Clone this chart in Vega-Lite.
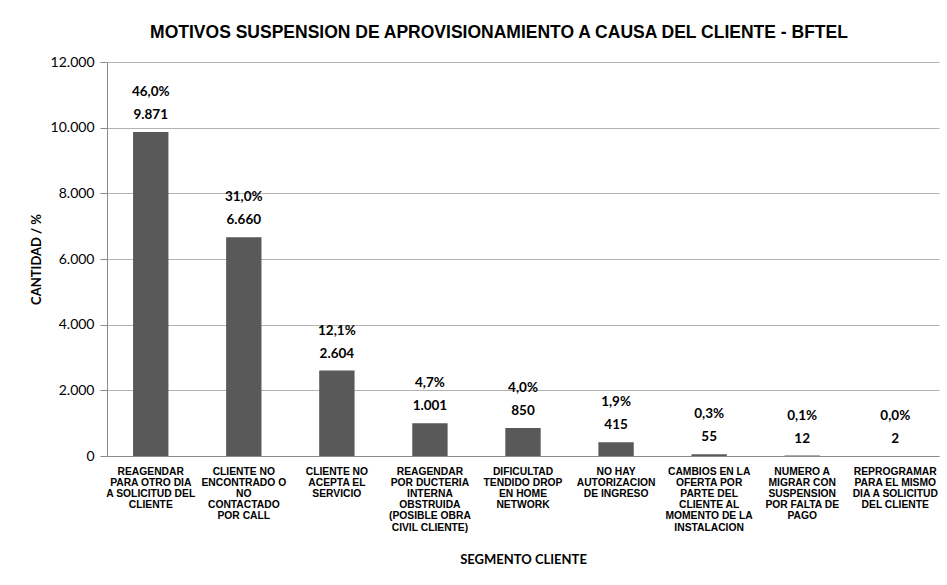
{
  "$schema": "https://vega.github.io/schema/vega-lite/v6.json",
  "width": 832,
  "height": 394,
  "autosize": {"type": "none"},
  "padding": {"left": 107, "top": 62, "right": 8, "bottom": 129},
  "background": "white",
  "title": {
    "text": "MOTIVOS SUSPENSION DE APROVISIONAMIENTO A CAUSA DEL  CLIENTE - BFTEL",
    "font": "Liberation Sans",
    "fontSize": 17.5,
    "fontWeight": "bold",
    "color": "#000000",
    "anchor": "middle",
    "dx": -24,
    "offset": 14
  },
  "data": {
    "values": [
      {"motivo": "REAGENDAR|PARA OTRO DIA|A SOLICITUD DEL|CLIENTE", "cantidad": 9871, "pct": "46,0%", "lbl": "9.871", "orden": 1},
      {"motivo": "CLIENTE NO|ENCONTRADO O|NO|CONTACTADO|POR CALL", "cantidad": 6660, "pct": "31,0%", "lbl": "6.660", "orden": 2},
      {"motivo": "CLIENTE NO|ACEPTA EL|SERVICIO", "cantidad": 2604, "pct": "12,1%", "lbl": "2.604", "orden": 3},
      {"motivo": "REAGENDAR|POR DUCTERIA|INTERNA|OBSTRUIDA|(POSIBLE OBRA|CIVIL CLIENTE)", "cantidad": 1001, "pct": "4,7%", "lbl": "1.001", "orden": 4},
      {"motivo": "DIFICULTAD|TENDIDO DROP|EN HOME|NETWORK", "cantidad": 850, "pct": "4,0%", "lbl": "850", "orden": 5},
      {"motivo": "NO HAY|AUTORIZACION|DE INGRESO", "cantidad": 415, "pct": "1,9%", "lbl": "415", "orden": 6},
      {"motivo": "CAMBIOS EN LA|OFERTA POR|PARTE DEL|CLIENTE AL|MOMENTO DE LA|INSTALACION", "cantidad": 55, "pct": "0,3%", "lbl": "55", "orden": 7},
      {"motivo": "NUMERO A|MIGRAR CON|SUSPENSION|POR FALTA DE|PAGO", "cantidad": 12, "pct": "0,1%", "lbl": "12", "orden": 8},
      {"motivo": "REPROGRAMAR|PARA EL MISMO|DIA A SOLICITUD|DEL CLIENTE", "cantidad": 2, "pct": "0,0%", "lbl": "2", "orden": 9}
    ]
  },
  "encoding": {
    "x": {
      "field": "motivo",
      "type": "nominal",
      "sort": {"field": "orden"},
      "scale": {"paddingInner": 0.62, "paddingOuter": 0.28},
      "axis": {
        "title": "SEGMENTO CLIENTE",
        "titleFont": "Lato",
        "titleFontSize": 13,
        "titleFontWeight": "bold",
        "titleColor": "#000000",
        "titlePadding": 21,
        "labelAngle": 0,
        "labelExpr": "split(datum.label, '|')",
        "labelFont": "Liberation Sans",
        "labelFontSize": 10.3,
        "labelFontWeight": "bold",
        "labelColor": "#000000",
        "labelLineHeight": 11.2,
        "labelPadding": 10,
        "labelLimit": 200,
        "ticks": false,
        "domainColor": "#8c8c8c",
        "grid": false
      }
    },
    "y": {
      "field": "cantidad",
      "type": "quantitative",
      "scale": {"domain": [0, 12000]},
      "axis": {
        "title": "CANTIDAD / %",
        "titleFont": "Lato",
        "titleFontSize": 13,
        "titleFontWeight": "bold",
        "titleColor": "#000000",
        "titlePadding": 7,
        "values": [0, 2000, 4000, 6000, 8000, 10000, 12000],
        "labelExpr": "replace(format(datum.value, ','), ',', '.')",
        "labelFont": "Lato",
        "labelFontSize": 14,
        "labelColor": "#000000",
        "labelPadding": 6,
        "tickSize": 7,
        "tickColor": "#8c8c8c",
        "domainColor": "#8c8c8c",
        "gridColor": "#b3b3b3",
        "gridWidth": 1
      }
    }
  },
  "layer": [
    {"mark": {"type": "bar", "color": "#595959"}},
    {
      "mark": {"type": "text", "dy": -17, "font": "Lato", "fontSize": 13.5, "fontWeight": "bold", "color": "#000000"},
      "encoding": {"text": {"field": "lbl"}}
    },
    {
      "mark": {"type": "text", "dy": -40, "font": "Lato", "fontSize": 13.5, "fontWeight": "bold", "color": "#000000"},
      "encoding": {"text": {"field": "pct"}}
    }
  ],
  "config": {"view": {"stroke": null}}
}
